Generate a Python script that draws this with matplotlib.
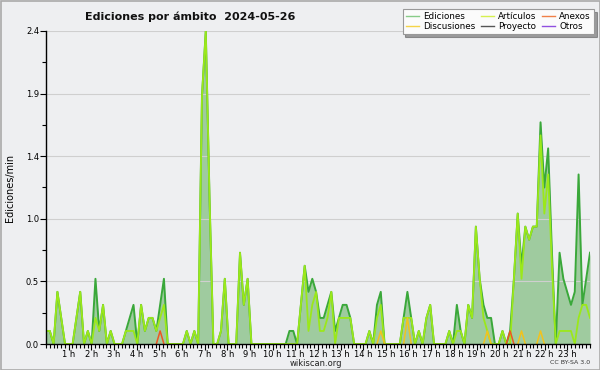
import numpy as np
import matplotlib
matplotlib.use("Agg")
import matplotlib.pyplot as plt
from matplotlib.patches import Rectangle
from matplotlib.lines import Line2D

# ---- data: edits per minute, 10-minute bins over 24 h (144 points) ----
ediciones = [
    0.1, 0.1, 0.0, 0.4, 0.2, 0.0,   # 0 h
    0.0, 0.0, 0.2, 0.4, 0.0, 0.1,   # 1 h
    0.0, 0.5, 0.1, 0.3, 0.0, 0.1,   # 2 h
    0.0, 0.0, 0.0, 0.1, 0.2, 0.3,   # 3 h
    0.0, 0.3, 0.1, 0.2, 0.2, 0.1,   # 4 h
    0.3, 0.5, 0.0, 0.0, 0.0, 0.0,   # 5 h
    0.0, 0.1, 0.0, 0.1, 0.0, 1.9,   # 6 h
    2.4, 1.1, 0.0, 0.0, 0.1, 0.5,   # 7 h
    0.0, 0.0, 0.0, 0.7, 0.3, 0.5,   # 8 h
    0.0, 0.0, 0.0, 0.0, 0.0, 0.0,   # 9 h
    0.0, 0.0, 0.0, 0.0, 0.1, 0.1,   # 10 h
    0.0, 0.3, 0.6, 0.4, 0.5, 0.4,   # 11 h
    0.2, 0.2, 0.3, 0.4, 0.1, 0.2,   # 12 h
    0.3, 0.3, 0.2, 0.0, 0.0, 0.0,   # 13 h
    0.0, 0.1, 0.0, 0.3, 0.4, 0.0,   # 14 h
    0.0, 0.0, 0.0, 0.0, 0.2, 0.4,   # 15 h
    0.2, 0.0, 0.1, 0.0, 0.2, 0.3,   # 16 h
    0.0, 0.0, 0.0, 0.0, 0.1, 0.0,   # 17 h
    0.3, 0.1, 0.0, 0.3, 0.2, 0.9,   # 18 h
    0.5, 0.3, 0.2, 0.2, 0.0, 0.0,   # 19 h
    0.1, 0.0, 0.1, 0.5, 1.0, 0.6,   # 20 h
    0.9, 0.8, 0.9, 0.9, 1.7, 1.2,   # 21 h
    1.5, 0.7, 0.0, 0.7, 0.5, 0.4,   # 22 h
    0.3, 0.4, 1.3, 0.3, 0.5, 0.7,   # 23 h
]
articulos = [
    0.1, 0.1, 0.0, 0.4, 0.2, 0.0,
    0.0, 0.0, 0.2, 0.4, 0.0, 0.1,
    0.0, 0.2, 0.1, 0.3, 0.0, 0.1,
    0.0, 0.0, 0.0, 0.1, 0.1, 0.1,
    0.0, 0.3, 0.1, 0.2, 0.2, 0.1,
    0.2, 0.3, 0.0, 0.0, 0.0, 0.0,
    0.0, 0.1, 0.0, 0.1, 0.0, 1.9,
    2.4, 1.1, 0.0, 0.0, 0.1, 0.5,
    0.0, 0.0, 0.0, 0.7, 0.3, 0.5,
    0.0, 0.0, 0.0, 0.0, 0.0, 0.0,
    0.0, 0.0, 0.0, 0.0, 0.0, 0.0,
    0.0, 0.3, 0.6, 0.1, 0.3, 0.4,
    0.1, 0.1, 0.2, 0.4, 0.0, 0.2,
    0.2, 0.2, 0.2, 0.0, 0.0, 0.0,
    0.0, 0.1, 0.0, 0.2, 0.3, 0.0,
    0.0, 0.0, 0.0, 0.0, 0.2, 0.2,
    0.2, 0.0, 0.1, 0.0, 0.2, 0.3,
    0.0, 0.0, 0.0, 0.0, 0.1, 0.0,
    0.1, 0.1, 0.0, 0.3, 0.2, 0.9,
    0.5, 0.2, 0.1, 0.0, 0.0, 0.0,
    0.1, 0.0, 0.0, 0.5, 1.0, 0.5,
    0.9, 0.8, 0.9, 0.9, 1.6, 1.0,
    1.3, 0.6, 0.0, 0.1, 0.1, 0.1,
    0.1, 0.0, 0.2, 0.3, 0.3, 0.2,
]
n = len(ediciones)
anexos = [0.0] * n
anexos[30] = 0.1
anexos[122] = 0.1
discusiones = [0.0] * n
discusiones[88] = 0.1
discusiones[95] = 0.2
discusiones[116] = 0.1
discusiones[125] = 0.1
discusiones[130] = 0.1
proyecto = [0.0] * n
otros = [0.0] * n

hour_labels = [f"{h} h" for h in range(1, 24)]
ytick_values = [0.0, 0.48, 0.96, 1.44, 1.92, 2.4]
ytick_labels = ["0.0", "0.5", "1.0", "1.4", "1.9", "2.4"]

title = "Ediciones por ámbito  2024-05-26"
series_names = ["Ediciones", "Artículos", "Anexos", "Discusiones", "Proyecto", "Otros"]

# ---- styling ----
BG = "#eeeff1"
C_FILL = "#9fcb9f"
C_TOT = "#3aa83a"
C_ART = "#9be81a"
C_ANX = "#ee5522"
C_DIS = "#f2c21e"
C_PRO = "#555555"
C_OTR = "#9050e0"
LEG_COLORS = ["#88cc88", "#d6f050", "#f08048", "#f5d448", "#555555", "#9050e0"]

x = np.arange(n) * 24.0 / (n - 1)

fig = plt.figure(figsize=(6.0, 3.7), dpi=100, facecolor=BG)
ax = fig.add_axes([46 / 600, 1 - 344 / 370, 544 / 600, 313 / 370])
ax.set_facecolor(BG)

tot = np.array(ediciones)
ax.fill_between(x, 0, tot, color=C_FILL, lw=0, zorder=2)
ax.plot(x, tot, color=C_TOT, lw=1.4, zorder=3)
ax.plot(x, articulos, color=C_ART, lw=1.3, zorder=4)


def masked(v):
    v = np.array(v, dtype=float)
    out = v.copy()
    for i in range(len(v)):
        lo = v[i - 1] if i > 0 else 0
        hi = v[i + 1] if i < len(v) - 1 else 0
        if v[i] == 0 and lo == 0 and hi == 0:
            out[i] = np.nan
    return out

ax.plot(x, masked(discusiones), color=C_DIS, lw=1.1, zorder=5)
ax.plot(x, masked(anexos), color=C_ANX, lw=1.1, zorder=5)
ax.plot(x, masked(proyecto), color=C_PRO, lw=1.1, zorder=5)
ax.plot(x, masked(otros), color=C_OTR, lw=1.1, zorder=5)

ax.set_xlim(0, 24)
ax.set_ylim(0, 2.4)

for s in ["top", "right"]:
    ax.spines[s].set_visible(False)
for s in ["left", "bottom"]:
    ax.spines[s].set_color("black")
    ax.spines[s].set_linewidth(1.0)
    ax.spines[s].set_zorder(10)

ax.set_yticks(ytick_values)
ax.set_yticklabels(ytick_labels)
ax.set_yticks(np.arange(0, 2.41, 0.24), minor=True)
ax.yaxis.grid(True, which="major", color="#cfcfcf", lw=0.8, zorder=1)
ax.set_xticks(np.arange(1, 24))
ax.set_xticklabels(hour_labels)
ax.set_xticks(np.arange(0, 24.01, 1 / 6), minor=True)
ax.tick_params(axis="both", which="major", labelsize=6.0, length=4, width=0.8,
               color="black", pad=1.0)
ax.tick_params(axis="x", which="major", pad=0.3)
ax.tick_params(axis="both", which="minor", length=3, width=0.8, color="black")
ax.set_axisbelow(False)

fig.text(85 / 600, 1 - 17 / 370, title, fontsize=8, fontweight="bold",
         ha="left", va="center", color="#111111")
fig.text(10 / 600, 1 - 188 / 370, "Ediciones/min", rotation=90, fontsize=7,
         ha="center", va="center")
fig.text(316 / 600, 1 - 363 / 370, "wikiscan.org", fontsize=6.0, ha="center",
         va="center", color="#222222")
fig.text(590 / 600, 1 - 363 / 370, "CC BY-SA 3.0", fontsize=4.5, ha="right",
         va="center", color="#333333")

handles = [Line2D([], [], color=c, lw=1.0) for c in LEG_COLORS]
order = [0, 3, 1, 4, 2, 5]
leg = fig.legend([handles[i] for i in order], [series_names[i] for i in order],
                 ncol=3, loc="upper right", bbox_to_anchor=(594 / 600, 1 - 9 / 370),
                 fontsize=6.3, frameon=True, fancybox=False, shadow=True,
                 handlelength=1.5, handletextpad=0.5, columnspacing=0.6,
                 labelspacing=0.1, borderpad=0.35, borderaxespad=0)
leg.get_frame().set_facecolor("#fbfbfb")
leg.get_frame().set_edgecolor("#999999")
leg.get_frame().set_linewidth(0.8)

fig.patches.append(Rectangle((0.5 / 600, 0.5 / 370), 599 / 600, 369 / 370,
                             transform=fig.transFigure, fill=False,
                             edgecolor="#aaaaaa", lw=1.2))

fig.savefig("out.png", dpi=100, facecolor=BG)
